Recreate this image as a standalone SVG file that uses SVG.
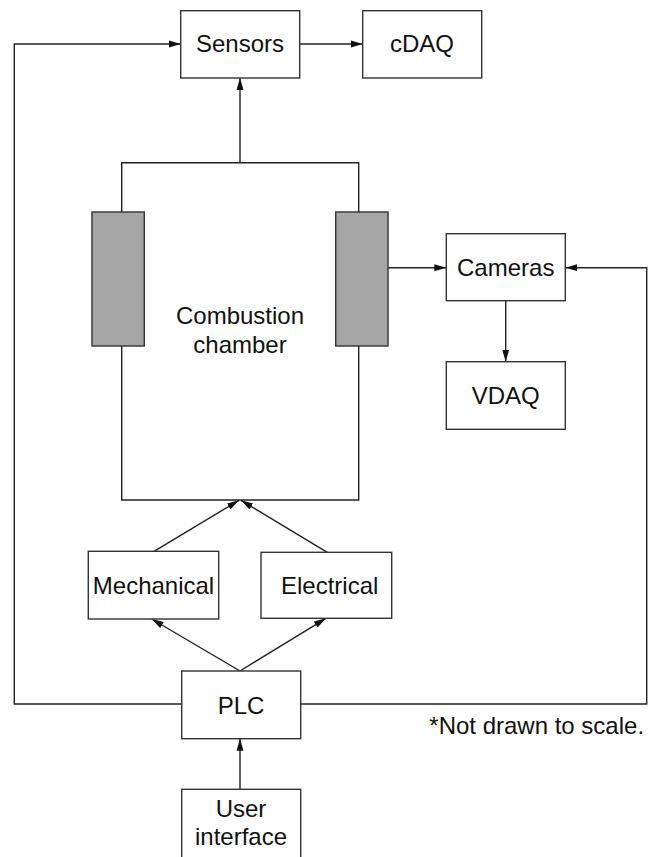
<svg xmlns="http://www.w3.org/2000/svg" width="656" height="857" viewBox="0 0 656 857">
<style>
.box{fill:#fff;stroke:#333;stroke-width:1.4}
.wall{fill:#a6a6a6;stroke:#333;stroke-width:1.4}
.ln{fill:none;stroke:#222;stroke-width:1.4}
.arr{fill:none;stroke:#222;stroke-width:1.4;marker-end:url(#ah)}
text{font-family:"Liberation Sans",Arial,sans-serif;font-size:24px;fill:#111;text-anchor:middle}
</style>
<defs>
<marker id="ah" markerUnits="userSpaceOnUse" markerWidth="13" markerHeight="8" refX="12" refY="4" orient="auto">
<path d="M0,0.5 L12,4 L0,7.5 Z" fill="#111"/>
</marker>
</defs>
<rect width="656" height="857" fill="#fff"/>
<g id="connectors">
<path class="arr" d="M181.7,704 H14.3 V44 H180.7"/>
<path class="arr" d="M299.7,44 H362.7"/>
<path class="arr" d="M240,162.7 V78"/>
<path class="arr" d="M388,267.7 H446.3"/>
<path class="arr" d="M300.7,704 H646.7 V267.7 H565.3"/>
<path class="arr" d="M505.7,300.7 V361.7"/>
<path class="arr" d="M154,551.3 L239,500.3"/>
<path class="arr" d="M327.3,552.3 L241,500.3"/>
<path class="arr" d="M240,671 L151.7,619"/>
<path class="arr" d="M240,671 L326,618.3"/>
<path class="arr" d="M240,789.3 V738.7"/>
</g>
<g id="chamber">
<path class="ln" d="M121.7,212 V162.7 H358.7 V212"/>
<path class="ln" d="M121.7,346 V500 H358.7 V346"/>
<rect class="wall" x="92" y="212" width="52.3" height="134"/>
<rect class="wall" x="335.7" y="212" width="52.3" height="134"/>
<text x="240" y="324">Combustion</text>
<text x="240" y="352.7">chamber</text>
</g>
<g id="sensors">
<rect class="box" x="180.7" y="10.7" width="119" height="67.3"/>
<text x="240" y="52">Sensors</text>
</g>
<g id="cdaq">
<rect class="box" x="362.7" y="10.7" width="119" height="67.3"/>
<text x="422" y="52">cDAQ</text>
</g>
<g id="cameras">
<rect class="box" x="446.3" y="233.7" width="119" height="67"/>
<text x="505.7" y="276">Cameras</text>
</g>
<g id="vdaq">
<rect class="box" x="446.3" y="361.7" width="119" height="67.6"/>
<text x="505.7" y="404">VDAQ</text>
</g>
<g id="mechanical">
<rect class="box" x="88.3" y="551.3" width="130.4" height="67.7"/>
<text x="153.5" y="593.5">Mechanical</text>
</g>
<g id="electrical">
<rect class="box" x="261" y="552.3" width="130.7" height="66"/>
<text x="329.7" y="593.5">Electrical</text>
</g>
<g id="plc">
<rect class="box" x="181.7" y="671" width="119" height="67.7"/>
<text x="241" y="713.5">PLC</text>
</g>
<g id="user-interface">
<rect class="box" x="181.7" y="789.3" width="119" height="75"/>
<text x="241" y="816.7">User</text>
<text x="241" y="845">interface</text>
</g>
<text x="536.7" y="734">*Not drawn to scale.</text>
</svg>
